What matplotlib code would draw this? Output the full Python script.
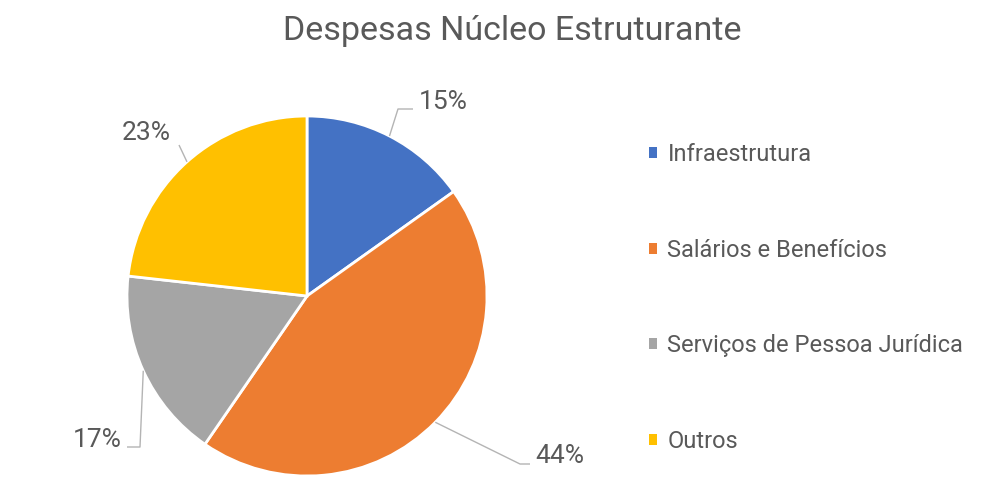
import matplotlib
matplotlib.use("Agg")
import matplotlib.pyplot as plt
from matplotlib.patches import Patch
import numpy as np

title = "Despesas Núcleo Estruturante"
categories = ["Infraestrutura", "Salários e Benefícios", "Serviços de Pessoa Jurídica", "Outros"]
values = [15, 44, 17, 23]
colors = ["#4472C4", "#ED7D31", "#A5A5A5", "#FFC000"]

W, H = 987, 479
CX, CY, R = 307, 296, 180
FONT = "Roboto"
TXT = "#595959"

fig = plt.figure(figsize=(W / 100, H / 100), dpi=100)
ax = fig.add_axes([0, 0, 1, 1])
ax.axis("off")

def px(x, y):
    return ((x - CX) / R, (CY - y) / R)

wedges, _ = ax.pie(values, colors=colors, startangle=90, counterclock=False,
                   radius=1.0, center=(0, 0),
                   wedgeprops=dict(edgecolor="white", linewidth=2))
ax.set_xlim(-CX / R, (W - CX) / R)
ax.set_ylim(-(H - CY) / R, CY / R)
ax.set_aspect("auto")

total = sum(values)
labels = [f"{v}%" for v in values]
label_pos = [(443, 102), (560, 456), (97, 440), (146, 133)]
elbows = [[(398, 109), (413, 109)],
          [(520, 464), (530, 464)],
          [(140, 447), (127, 447)],
          [(179, 145)]]
cum = 0
for i, v in enumerate(values):
    mid = 90 - (cum + v / 2) / total * 360
    cum += v
    ex, ey = np.cos(np.radians(mid)), np.sin(np.radians(mid))
    pts = [(ex, ey)] + [px(*p) for p in elbows[i]]
    xs, ys = zip(*pts)
    ax.plot(xs, ys, color="#B4B4B4", lw=1.0, solid_capstyle="butt")
    lx, ly = px(*label_pos[i])
    ax.text(lx, ly, labels[i], ha="center", va="center", fontsize=19,
            color=TXT, family=FONT)

tx, ty = px(512, 31)
ax.text(tx, ty, title, ha="center", va="center", fontsize=24.5, color=TXT, family=FONT)

handles = [Patch(facecolor=c, edgecolor="none") for c in colors]
leg = ax.legend(handles, categories, loc="upper left",
                bbox_to_anchor=(637 / W, 1 - 131 / H), frameon=False, borderpad=0,
                handlelength=0.34, handleheight=0.34, handletextpad=0.45,
                labelspacing=3.08, prop=dict(family=FONT, size=17))
for t in leg.get_texts():
    t.set_color(TXT)

fig.savefig("out.png", dpi=100)
